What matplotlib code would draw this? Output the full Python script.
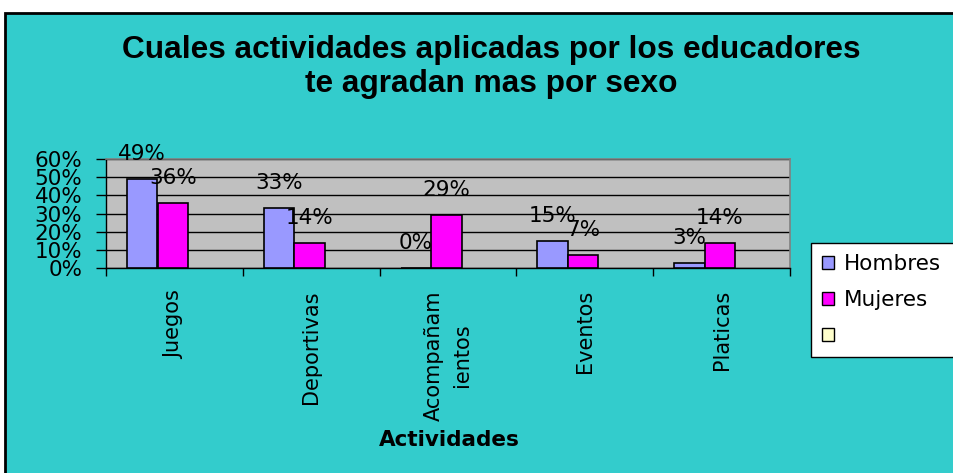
import matplotlib
matplotlib.use("Agg")
import matplotlib.pyplot as plt
import matplotlib.patches as mpatches
import numpy as np

plt.rcParams['font.family'] = ['DejaVu Sans']

categories = ["Juegos", "Deportivas", "Acompañam\nientos", "Eventos", "Platicas"]
hombres = [49, 33, 0, 15, 3]
mujeres = [36, 14, 29, 7, 14]
series_names = ["Hombres", "Mujeres", " "]
yticks = [0, 10, 20, 30, 40, 50, 60]
title = "Cuales actividades aplicadas por los educadores\nte agradan mas por sexo"
xlabel = "Actividades"

W, H = 954, 473
fig = plt.figure(figsize=(W / 100, H / 100), dpi=100, facecolor="white")

# outer chart area
bg = mpatches.Rectangle((5 / W, -0.05), 1.1, (H - 13) / H + 0.05, transform=fig.transFigure,
                        facecolor="#33CCCC", edgecolor="black", linewidth=2, zorder=-10)
fig.patches.append(bg)

ax = fig.add_axes([106 / W, (H - 268) / H, 684 / W, 109 / H])
ax.set_facecolor("#C0C0C0")

x = np.arange(len(categories))
bw = 0.222
b1 = ax.bar(x - 0.235, hombres, bw, color="#9999FF", edgecolor="black", linewidth=1.2, zorder=3)
b2 = ax.bar(x - 0.012, mujeres, bw, color="#FF00FF", edgecolor="black", linewidth=1.2, zorder=3)

for bars, vals in ((b1, hombres), (b2, mujeres)):
    for rect, v in zip(bars, vals):
        ax.annotate(f"{v}%", (rect.get_x() + rect.get_width() / 2, v),
                    xytext=(0, 19), textcoords="offset pixels",
                    ha="center", va="baseline", fontsize=15.5, zorder=5,
                    annotation_clip=False)

ax.set_xlim(-0.5, len(categories) - 0.5)
ax.set_ylim(0, 60)
ax.set_yticks(yticks)
ax.set_yticklabels([f"{t}%" for t in yticks], fontsize=15.5)
ax.yaxis.grid(True, color="black", linewidth=1, zorder=1)
ax.set_axisbelow(True)

ax.set_xticks(np.arange(len(categories) + 1) - 0.5)
ax.set_xticklabels([])
ax.set_xticks(x, minor=True)
ax.set_xticklabels(categories, minor=True, rotation=90, fontsize=15, va="top", ha="center",
                   linespacing=1.55)
ax.tick_params(axis="x", which="minor", length=0, pad=16)
ax.tick_params(axis="x", which="major", length=6, width=1, direction="out")
ax.tick_params(axis="y", length=7, width=1, pad=10)

for s in ("top", "right"):
    ax.spines[s].set_color("#808080")
    ax.spines[s].set_linewidth(1.2)
for s in ("left", "bottom"):
    ax.spines[s].set_color("black")
    ax.spines[s].set_linewidth(1)

fig.text(449 / W, 1 - 440 / H, xlabel, ha="center", va="center", fontsize=15.5, fontweight="bold")
fig.text(491 / W, 1 - 67 / H, title, ha="center", va="center", fontsize=22.8,
         fontweight="bold", linespacing=1.2, family="Liberation Sans")

handles = [mpatches.Patch(facecolor="#9999FF", edgecolor="black"),
           mpatches.Patch(facecolor="#FF00FF", edgecolor="black"),
           mpatches.Patch(facecolor="#FFFFCC", edgecolor="black")]
leg = fig.legend(handles, series_names, loc="upper left",
                 bbox_to_anchor=(811 / W, 1 - 243 / H, 0.2, 0.0001), mode="expand",
                 fontsize=15.5, frameon=True, fancybox=False, edgecolor="black",
                 framealpha=1, handlelength=0.55, handleheight=0.55, handletextpad=0.5,
                 labelspacing=0.75, borderpad=0.5, borderaxespad=0)
leg.get_frame().set_linewidth(1)

fig.savefig("out.png", dpi=100, facecolor="white")
